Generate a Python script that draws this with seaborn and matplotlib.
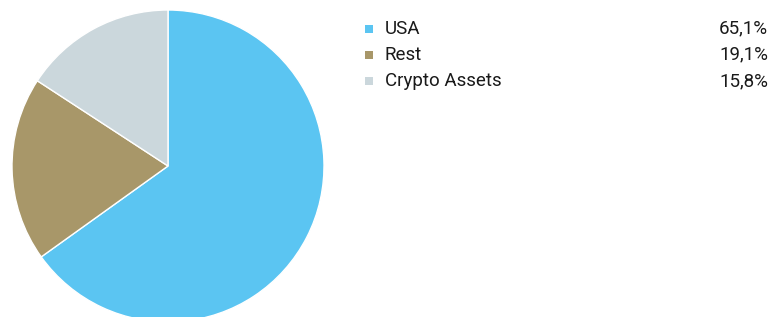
import matplotlib
matplotlib.use("Agg")
import matplotlib.pyplot as plt
from matplotlib.patches import Rectangle
import seaborn as sns

categories = ["USA", "Rest", "Crypto Assets"]
values = [65.1, 19.1, 15.8]
labels = ["65,1%", "19,1%", "15,8%"]
colors = ["#5BC5F2", "#A89769", "#CBD7DC"]

sns.set_theme(style="white")
plt.rcParams['font.family'] = ['Roboto', 'DejaVu Sans']

W, H = 773, 317
fig = plt.figure(figsize=(W / 100, H / 100), dpi=100)
cx, cy, r = 168, 166, 156
ax = fig.add_axes([(cx - r) / W, (H - cy - r) / H, 2 * r / W, 2 * r / H])
ax.pie(values, colors=colors, startangle=90, counterclock=False,
       radius=1, wedgeprops=dict(edgecolor="white", linewidth=1))
ax.set_xlim(-1, 1)
ax.set_ylim(-1, 1)
ax.set_axis_off()

rows_y = [28.5, 54.5, 81]
sq = 8
for cat, lab, col, y in zip(categories, labels, colors, rows_y):
    fig.patches.append(Rectangle(((369 - sq / 2) / W, (H - y - sq / 2) / H), sq / W, sq / H,
                                 transform=fig.transFigure, facecolor=col, edgecolor="none"))
    fig.text(385 / W, (H - y) / H, cat, ha="left", va="center", fontsize=13.5, color="#1a1a1a")
    fig.text(768 / W, (H - y) / H, lab, ha="right", va="center", fontsize=13.5, color="#1a1a1a")

fig.savefig("out.png", dpi=100)
